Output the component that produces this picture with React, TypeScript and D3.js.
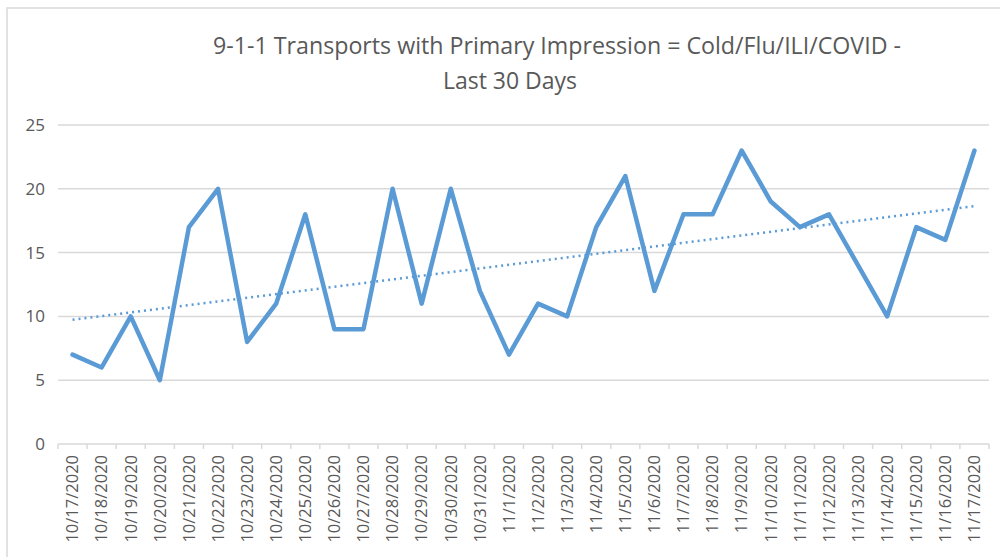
import React from "react";
import * as d3 from "d3";

const width = 1000;
const height = 557;

const dates = [
  "10/17/2020", "10/18/2020", "10/19/2020", "10/20/2020", "10/21/2020", "10/22/2020",
  "10/23/2020", "10/24/2020", "10/25/2020", "10/26/2020", "10/27/2020", "10/28/2020",
  "10/29/2020", "10/30/2020", "10/31/2020", "11/1/2020", "11/2/2020", "11/3/2020",
  "11/4/2020", "11/5/2020", "11/6/2020", "11/7/2020", "11/8/2020", "11/9/2020",
  "11/10/2020", "11/11/2020", "11/12/2020", "11/13/2020", "11/14/2020", "11/15/2020",
  "11/16/2020", "11/17/2020",
];
const transports = [
  7, 6, 10, 5, 17, 20, 8, 11, 18, 9, 9, 20, 11, 20, 12, 7, 11, 10, 17, 21, 12, 18, 18, 23,
  19, 17, 18, 14, 10, 17, 16, 23,
];
const yTicks = [0, 5, 10, 15, 20, 25];

const titleLine1 = "9-1-1 Transports with Primary Impression = Cold/Flu/ILI/COVID  -";
const titleLine2 = "Last 30 Days";

const blue = "#5b9bd5";
const grid = "#d9d9d9";
const textGray = "#595959";

// linear trendline (least squares over the category index)
function trend(values: number[]) {
  const n = values.length;
  const xs = values.map((_, i) => i);
  const mx = d3.mean(xs) as number;
  const my = d3.mean(values) as number;
  let num = 0;
  let den = 0;
  xs.forEach((x, i) => {
    num += (x - mx) * (values[i] - my);
    den += (x - mx) * (x - mx);
  });
  const slope = num / den;
  const icpt = my - slope * mx;
  return [icpt, icpt + slope * (n - 1)];
}

export default function App() {
  const left = 58;
  const right = 989;
  const top = 125;
  const bottom = 444;

  const x = d3.scaleBand<string>().domain(dates).range([left, right]);
  const cx = (d: string) => (x(d) as number) + x.bandwidth() / 2;
  const y = d3.scaleLinear().domain([0, 25]).range([bottom, top]);

  const line = d3
    .line<number>()
    .x((_, i) => cx(dates[i]))
    .y((d) => y(d));

  const [t0, t1] = trend(transports);

  return (
    <svg
      width={width}
      height={height}
      style={{ position: "absolute", left: 0, top: 0, background: "#fff" }}
      fontFamily="'Open Sans', sans-serif"
    >
      <rect x={7} y={8} width={1100} height={600} fill="#fff" stroke={grid} strokeWidth={1.5} />

      <text x={557} y={54} textAnchor="middle" fontSize={23} fill={textGray} textLength={688} lengthAdjust="spacingAndGlyphs">
        {titleLine1}
      </text>
      <text x={510} y={89} textAnchor="middle" fontSize={23} fill={textGray}>
        {titleLine2}
      </text>

      {yTicks.map((t) => (
        <g key={t}>
          {t > 0 && (
            <line x1={left} x2={right} y1={y(t)} y2={y(t)} stroke={grid} strokeWidth={1.5} />
          )}
          <text x={45} y={y(t)} dy="0.35em" textAnchor="end" fontSize={17} fill={textGray}>
            {t}
          </text>
        </g>
      ))}

      <line x1={left} x2={right} y1={bottom} y2={bottom} stroke={grid} strokeWidth={1.5} />
      {d3.range(dates.length + 1).map((i) => {
        const xx = left + i * x.step();
        return <line key={i} x1={xx} x2={xx} y1={bottom} y2={bottom + 5} stroke={grid} strokeWidth={1.5} />;
      })}

      {dates.map((d) => (
        <text
          key={d}
          transform={`translate(${cx(d)},${bottom + 11}) rotate(-90)`}
          textAnchor="end"
          dy="0.35em"
          fontSize={16.5}
          fill={textGray}
        >
          {d}
        </text>
      ))}

      <path
        d={line(transports) as string}
        fill="none"
        stroke={blue}
        strokeWidth={4.5}
        strokeLinejoin="round"
        strokeLinecap="round"
      />
      <line
        x1={cx(dates[0])}
        x2={cx(dates[dates.length - 1])}
        y1={y(t0)}
        y2={y(t1)}
        stroke={blue}
        strokeWidth={2.5}
        strokeDasharray="2 4"
      />
    </svg>
  );
}
